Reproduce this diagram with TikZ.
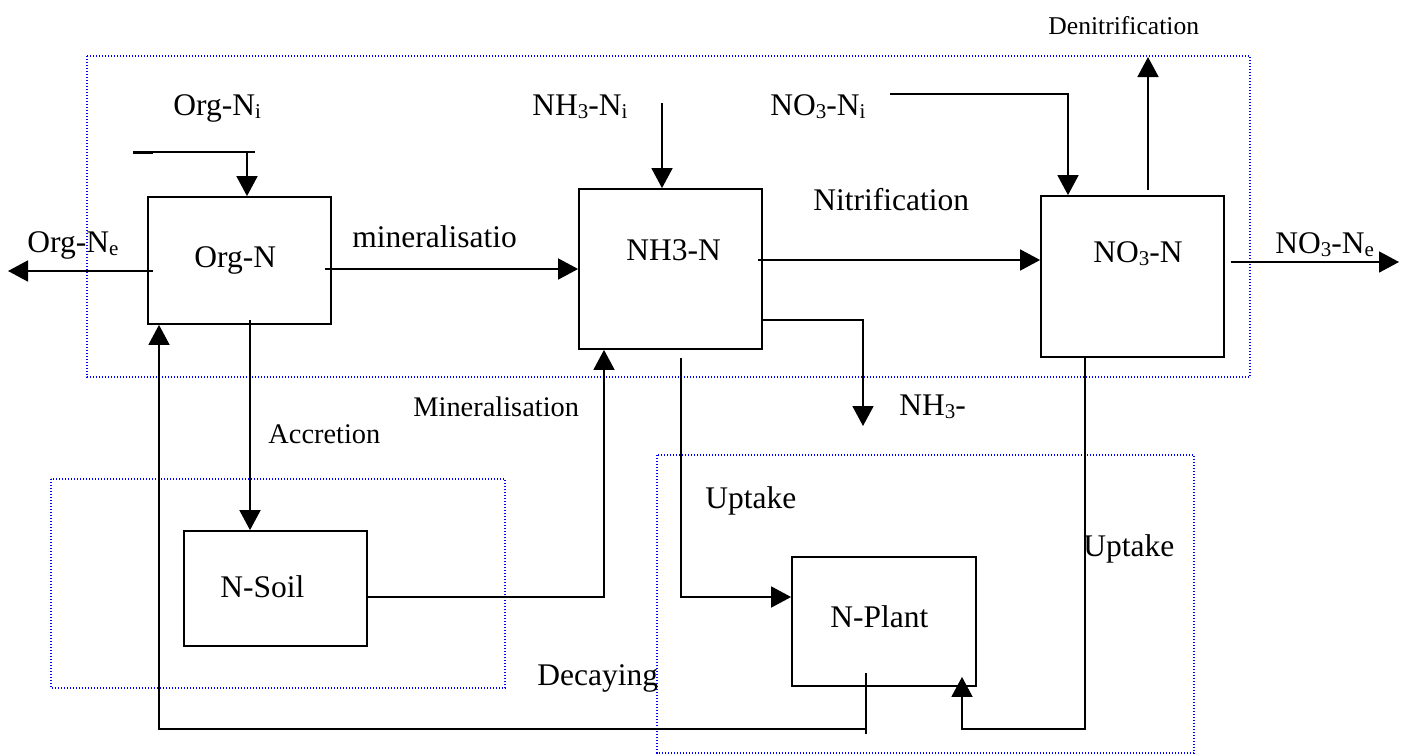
\documentclass[tikz,border=0pt]{standalone}
\usepackage{fontspec}
\setmainfont{Liberation Serif}
\usetikzlibrary{arrows.meta}
\newcommand\sbs[1]{\raisebox{-1.8pt}{\fontsize{10.5pt}{12pt}\selectfont #1}}
\begin{document}
\begin{tikzpicture}[x=0.5pt,y=-0.5pt,
  ln/.style={draw=black,line width=0.85pt},
  arr/.style={ln,-{Triangle[length=10pt,width=10.5pt]}},
  boxn/.style={draw=black,line width=0.9pt,inner sep=0pt,minimum width=91.5pt},
  region/.style={draw=blue,line width=0.6pt,dash pattern=on 0.6pt off 0.9pt},
  txt/.style={inner sep=0pt,anchor=base west,font=\fontsize{15.75pt}{18pt}\selectfont},
  stxt/.style={txt,font=\fontsize{14.2pt}{16pt}\selectfont},
  dtxt/.style={txt,font=\fontsize{12.8pt}{15pt}\selectfont}]
\useasboundingbox (0,0) rectangle (1407,755);
\fill[white] (0,0) rectangle (1407,755);

% regions
\draw[region] (87,56) rectangle (1250,377);
\draw[region] (51,479) rectangle (505,688);
\draw[region] (657,455) rectangle (1194,753);

% boxes
\node[boxn,minimum height=63.5pt] (orgn) at (239.5,260.5) {};
\node[boxn,minimum height=80pt] (nh3n) at (670.5,269) {};
\node[boxn,minimum height=80.5pt] (no3n) at (1132.5,276.5) {};
\node[boxn,minimum height=57.5pt] (nsoil) at (275.5,588.5) {};
\node[boxn,minimum width=92pt,minimum height=64.5pt] (nplant) at (884,621.5) {};

% box labels
\node[txt] (orgnl) at (194,267) {Org-N};
\node[txt] (nh3nl) at (626,260) {NH3-N};
\node[txt] (no3nl) at (1093,262) {NO\sbs{3}-N};
\node[txt] (nsoill) at (220,597) {N-Soil};
\node[txt] (nplantl) at (830,627) {N-Plant};

% other labels
\node[dtxt] (denl) at (1048,34) {Denitrification};
\node[txt] (orgil) at (173,115) {Org-N\sbs{i}};
\node[txt] (nh3il) at (532,115) {NH\sbs{3}-N\sbs{i}};
\node[txt] (no3il) at (770,115) {NO\sbs{3}-N\sbs{i}};
\node[txt] (nitl) at (813,210) {Nitrification};
\node[txt] (orgel) at (27,252) {Org-N\sbs{e}};
\node[txt] (minl) at (352,247) {mineralisatio};
\node[txt] (no3el) at (1275,253) {NO\sbs{3}-N\sbs{e}};
\node[stxt] (min2l) at (413,416) {Mineralisation};
\node[stxt] (accl) at (268,443) {Accretion};
\node[txt] (nh3ml) at (899,415) {NH\sbs{3}-};
\node[txt] (up1l) at (705,508) {Uptake};
\node[txt] (up2l) at (1083,556) {Uptake};
\node[txt] (decl) at (537,685) {Decaying};

% coordinates
\coordinate (oiA) at (133,152);
\coordinate (oiB) at (255,152);
\coordinate (oiC) at (247,152);
\coordinate (hi) at (662,103);
\coordinate (ni) at (890,94);
\coordinate (niC) at (1068,94);
\coordinate (dn) at (1148,57);
\coordinate (oe) at (8,271);
\coordinate (m1) at (325,269);
\coordinate (nt) at (758,260);
\coordinate (ne1) at (1231,262);
\coordinate (ne2) at (1399,262);
\coordinate (vbA) at (0,320);
\coordinate (vb) at (863,426);
\coordinate (acc) at (250,0);
\coordinate (ms) at (604,597);
\coordinate (u1) at (681,597);
\coordinate (u2) at (1085,729);
\coordinate (u3) at (962,729);
\coordinate (dc1) at (866,673);
\coordinate (dc2) at (866,734);
\coordinate (dc3) at (866,729);
\coordinate (rb1) at (159,729);

% connectors
\draw[ln] (oiA) -- (oiB);
\draw[ln,line width=1.5pt] (oiA) -- ++(20,0);
\draw[arr] (oiC) -- (oiC |- orgn.north);
\draw[arr] (hi) -- (hi |- nh3n.north);
\draw[arr] (ni) -- (niC) -- (niC |- no3n.north);
\draw[arr] ([yshift=2.5pt]dn |- no3n.north) -- (dn);
\draw[arr] ([xshift=3pt]orgn.west |- oe) -- (oe);
\draw[arr] (m1) -- (m1 -| nh3n.west);
\draw[arr] (nt) -- (nt -| no3n.west);
\draw[arr] (ne1) -- (ne2);
\draw[arr] (nh3n.east |- vbA) -| (vb);
\draw[arr] ([yshift=2.5pt]orgn.south -| acc) -- (nsoil.north -| acc);
\draw[arr] (nsoil.east |- ms) -- (ms) -- (ms |- nh3n.south);
\draw[arr] ([yshift=-4pt]nh3n.south -| u1) -- (u1) -- (u1 -| nplant.west);
\draw[arr] (no3n.south -| u2) -- (u2) -- (u3) -- ([yshift=5pt]u3 |- nplant.south);
\draw[ln] (dc1) -- (dc2);
\draw[arr] (dc3) -- (rb1) -- (rb1 |- orgn.south);
\end{tikzpicture}
\end{document}
